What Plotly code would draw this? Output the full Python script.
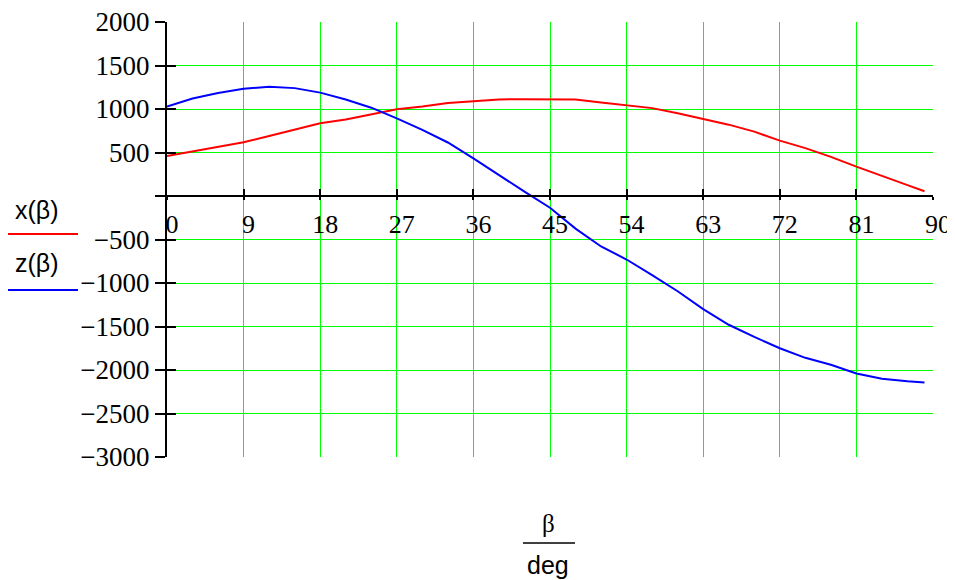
import plotly.graph_objects as go

# β in degrees
beta = [0, 3, 6, 9, 12, 15, 18, 21, 24, 27, 30, 33, 36, 39, 42, 45, 48, 51, 54, 57, 60,
        63, 66, 69, 72, 75, 78, 81, 84, 87, 89]
x_beta = [460, 510, 565, 617, 690, 760, 836, 880, 935, 997, 1030, 1070, 1090, 1110, 1112, 1112,
          1110, 1075, 1043, 1010, 950, 885, 820, 740, 636, 550, 450, 337, 235, 125, 55]
z_beta = [1027, 1120, 1185, 1232, 1257, 1240, 1188, 1110, 1015, 893, 760, 615, 433, 240, 50, -135,
          -375, -580, -730, -910, -1095, -1300, -1480, -1620, -1750, -1860, -1940, -2040, -2100,
          -2130, -2145]

x_tickvals = [0, 9, 18, 27, 36, 45, 54, 63, 72, 81, 90]
y_tickvals = [2000, 1500, 1000, 500, 0, -500, -1000, -1500, -2000, -2500, -3000]
y_ticktext = ["2000", "1500", "1000", "500", "", "\u2212500", "\u22121000", "\u22121500",
              "\u22122000", "\u22122500", "\u22123000"]

GRID = "#00ff00"
SERIF = "Times New Roman, Liberation Serif, DejaVu Serif, serif"
SANS = "Arial, Liberation Sans, sans-serif"

# the page body adds an 8px offset; the figure is sized so the plot lands where the reference has it
OFF = 8
W, H = 955 - OFF, 580 - OFF
L, R, T, B = 167, 933, 22, 457  # plot box in page pixels

fig = go.Figure()
fig.add_trace(go.Scatter(x=beta, y=x_beta, mode="lines", line=dict(color="#ff0000", width=2),
                         xaxis="x", yaxis="y", showlegend=False, hoverinfo="skip"))
fig.add_trace(go.Scatter(x=beta, y=z_beta, mode="lines", line=dict(color="#0000ff", width=2),
                         xaxis="x2", yaxis="y2", showlegend=False, hoverinfo="skip"))

xr = [0, 90]
yr = [-3000, 2000]
ypos = (0 - yr[0]) / (yr[1] - yr[0])

fig.update_layout(
    width=W, height=H,
    margin=dict(l=L - OFF, r=W - (R - OFF), t=T - OFF, b=H - (B - OFF), autoexpand=False),
    paper_bgcolor="white", plot_bgcolor="white",
    xaxis=dict(range=xr, tickvals=x_tickvals, showgrid=True, gridcolor=GRID, gridwidth=1,
               zeroline=False, anchor="free", position=ypos, showline=True, linecolor="black",
               linewidth=2, ticks="outside", ticklen=3, tickwidth=2, tickcolor="black",
               tickfont=dict(family=SERIF, size=26, color="black"), ticklabelshift=5,
               ticklabelstandoff=2, automargin=False, ticklabeloverflow="allow"),
    xaxis2=dict(range=xr, overlaying="x", anchor="free", position=ypos, showgrid=False,
                zeroline=False, showline=False, ticks="inside", ticklen=7, tickwidth=2,
                tickcolor="black", tickvals=x_tickvals, showticklabels=False, automargin=False),
    yaxis=dict(range=yr, tickvals=y_tickvals, ticktext=y_ticktext, showgrid=True,
               gridcolor=GRID, gridwidth=1, zeroline=False, showline=True, linecolor="black",
               linewidth=2, ticks="outside", ticklen=10, tickwidth=2, tickcolor="black",
               tickfont=dict(family=SERIF, size=27, color="black"), automargin=False,
               ticklabeloverflow="allow"),
    yaxis2=dict(range=yr, overlaying="y", anchor="x2", showgrid=False, zeroline=False,
                showline=False, ticks="inside", ticklen=9, tickwidth=2, tickcolor="black",
                tickvals=y_tickvals, showticklabels=False, automargin=False),
)

def px_x(p):
    return (p - L) / float(R - L)

def px_y(p):
    return (B - p) / float(B - T)

def label(text, cx, cy, family):
    return dict(text=text, x=px_x(cx), y=px_y(cy), xref="paper", yref="paper",
                xanchor="center", yanchor="middle", showarrow=False,
                font=dict(family=family, size=25, color="black"))

annotations = [
    label("x(\u03b2)", 37, 210, SANS),
    label("z(\u03b2)", 37, 263, SANS),
    label("\u03b2", 548, 523, SERIF),
    label("deg", 548, 565, SANS),
]
shapes = [
    dict(type="line", xref="paper", yref="paper", x0=px_x(8), x1=px_x(78), y0=px_y(234),
         y1=px_y(234), line=dict(color="#ff0000", width=2)),
    dict(type="line", xref="paper", yref="paper", x0=px_x(8), x1=px_x(78), y0=px_y(290),
         y1=px_y(290), line=dict(color="#0000ff", width=2)),
    dict(type="line", xref="paper", yref="paper", x0=px_x(523), x1=px_x(575), y0=px_y(543),
         y1=px_y(543), line=dict(color="black", width=1.5)),
]
fig.update_layout(annotations=annotations, shapes=shapes)

fig.write_html("out.html")
